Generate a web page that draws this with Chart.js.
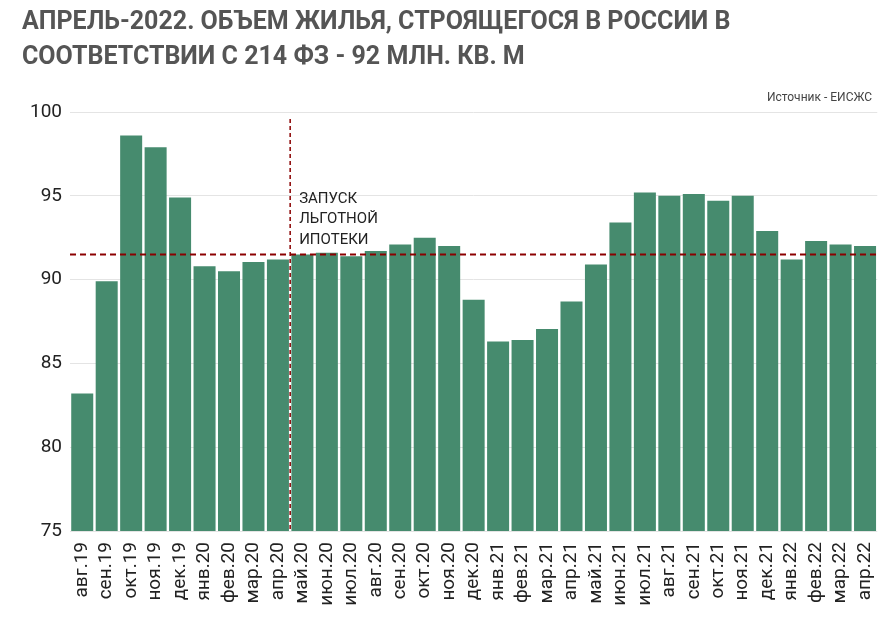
<!DOCTYPE html>
<html>
<head>
<meta charset="utf-8">
<script src="https://cdn.jsdelivr.net/npm/chart.js@4"></script>
<style>
  body { margin: 0; background: #fff; }
  #wrap { width: 891px; height: 622px; }
</style>
</head>
<body>
<div id="wrap"><canvas id="myChart"></canvas></div>
<script>
// данные
const months = ['авг.19','сен.19','окт.19','ноя.19','дек.19','янв.20','фев.20','мар.20','апр.20',
  'май.20','июн.20','июл.20','авг.20','сен.20','окт.20','ноя.20','дек.20','янв.21','фев.21','мар.21',
  'апр.21','май.21','июн.21','июл.21','авг.21','сен.21','окт.21','ноя.21','дек.21','янв.22','фев.22',
  'мар.22','апр.22'];
const volume = [83.2, 89.9, 98.6, 97.9, 94.9, 90.8, 90.5, 91.05, 91.2,
  91.5, 91.6, 91.4, 91.7, 92.1, 92.5, 92.0, 88.8, 86.3, 86.4, 87.05,
  88.7, 90.9, 93.4, 95.2, 95.0, 95.1, 94.7, 95.0, 92.9, 91.2, 92.3,
  92.1, 92.0];
const avgLevel = 91.5;
const launchAfter = 'апр.20';
const titleLines = ['АПРЕЛЬ-2022. ОБЪЕМ ЖИЛЬЯ, СТРОЯЩЕГОСЯ В РОССИИ В', 'СООТВЕТСТВИИ С 214 ФЗ - 92 МЛН. КВ. М'];
const noteLines = ['ЗАПУСК', 'ЛЬГОТНОЙ', 'ИПОТЕКИ'];

// линии и подписи
const extras = {
  id: 'extras',
  afterDatasetsDraw(chart) {
    const c = chart.ctx, x = chart.scales.x, y = chart.scales.y, a = chart.chartArea;
    c.save();
    c.strokeStyle = '#8b0000';
    c.lineWidth = 2;
    c.setLineDash([6, 4]);
    const yy = y.getPixelForValue(avgLevel);
    c.beginPath(); c.moveTo(a.left, yy); c.lineTo(a.right, yy); c.stroke();
    const i = months.indexOf(launchAfter);
    const xx = (x.getPixelForValue(i) + x.getPixelForValue(i + 1)) / 2;
    c.lineWidth = 1.5;
    c.setLineDash([4, 3]);
    c.beginPath(); c.moveTo(xx, a.top + 7); c.lineTo(xx, a.bottom); c.stroke();
    c.setLineDash([]);
    c.fillStyle = '#222';
    c.font = '15px Roboto';
    c.textBaseline = 'middle';
    noteLines.forEach((t, k) => c.fillText(t, xx + 9, 199 + k * 20.5));
    c.restore();
  },
  afterDraw(chart) {
    const c = chart.ctx;
    c.save();
    c.fillStyle = '#555';
    c.font = 'bold 25px Roboto';
    c.textBaseline = 'middle';
    titleLines.forEach((t, k) => c.fillText(t, 22, 23 + k * 35));
    c.fillStyle = '#444';
    c.font = '12px Roboto';
    c.textAlign = 'right';
    c.fillText('Источник - ЕИСЖС', 872, 98);
    c.restore();
  }
};

new Chart(document.getElementById('myChart'), {
  type: 'bar',
  data: {
    labels: months,
    datasets: [{
      data: volume,
      backgroundColor: '#468b6e',
      barPercentage: 0.9,
      categoryPercentage: 1.0
    }]
  },
  options: {
    responsive: true,
    maintainAspectRatio: false,
    animation: false,
    layout: { padding: { top: 112, right: 10, left: 10, bottom: 0 } },
    plugins: { legend: { display: false }, tooltip: { enabled: false } },
    scales: {
      y: {
        min: 75, max: 100,
        afterFit(s) { s.width = 60; },
        ticks: { stepSize: 5, color: '#222', padding: 8, font: { family: 'Roboto', size: 19 } },
        grid: { color: '#e4e4e4', drawTicks: false },
        border: { display: false }
      },
      x: {
        afterFit(s) { s.height = 91; },
        ticks: { color: '#222', maxRotation: 90, minRotation: 90, autoSkip: false, font: { family: 'Roboto', size: 19 } },
        grid: { display: false },
        border: { display: false }
      }
    }
  },
  plugins: [extras]
});
</script>
</body>
</html>
